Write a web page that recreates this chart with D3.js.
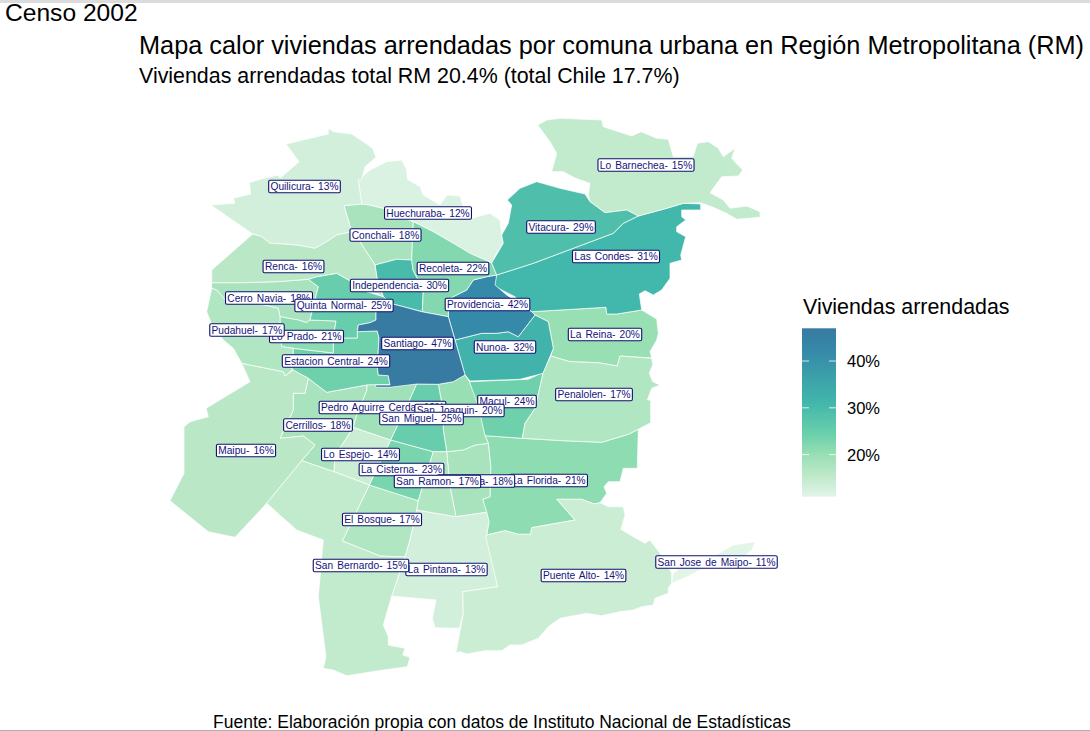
<!DOCTYPE html>
<html><head><meta charset="utf-8">
<script src="https://cdn.jsdelivr.net/npm/d3@7/dist/d3.min.js"></script>
<style>html,body{margin:0;padding:0;background:#fff}svg{display:block}text{font-family:"Liberation Sans",Arial,sans-serif}</style>
</head><body><svg id="c" width="1090" height="731"></svg>
<script>
// Comunas in alphabetical order (the order in which their labels stack)
const comunas=["Cerrillos","Cerro Navia","Conchali","El Bosque","Estacion Central","Huechuraba","Independencia","La Cisterna","La Florida","La Granja","La Pintana","La Reina","Las Condes","Lo Barnechea","Lo Espejo","Lo Prado","Macul","Maipu","Nunoa","Pedro Aguirre Cerda","Penalolen","Providencia","Pudahuel","Puente Alto","Quilicura","Quinta Normal","Recoleta","Renca","San Bernardo","San Joaquin","San Jose de Maipo","San Miguel","San Ramon","Santiago","Vitacura"];
const arrendadas=[18,18,18,17,24,12,30,23,21,18,13,20,31,15,14,21,24,16,32,19,17,42,17,14,13,25,22,16,15,20,11,25,17,47,29];
// Label anchors in map grid units
const anclas=[[318,425],[269,298],[385.5,235],[382,519.5],[336,361],[428,213],[399.5,285.5],[401.5,469.5],[548.5,480.5],[476,481],[446.5,569.5],[605,334.5],[616,256.5],[646,165],[360.5,454.5],[306.5,336.5],[507,401.5],[246,450.5],[505,347],[382.5,407.5],[594,394.5],[487.5,304.5],[247,330],[583.5,575.5],[304.5,186.5],[344,305.5],[453,268.5],[293.5,266.5],[361,565.5],[459.5,410.5],[716.5,562],[421.5,418.5],[437.5,481.5],[417.5,343.5],[561,227]];
// Comuna outlines in map grid units
const contornos=[
[[308.3,378.3],[326.7,392.3],[366.7,385],[367,390],[356.7,415],[353.3,427.3],[343.3,443],[335,455],[334,471.7],[301.7,460.7],[315,445],[303.3,436],[280,438.3],[293.3,410],[293.3,393.3],[305,393.3]],
[[211.7,282.7],[243.3,282.7],[276.7,281.7],[308.3,279.3],[318.3,286.7],[310,320],[306.7,322.7],[298.3,320],[280,316.7],[278.3,308.3],[260,304],[226.7,301.7],[216.7,290],[211.7,288.3]],
[[344,205.7],[361.7,204],[370,205],[383.3,208.3],[413.3,221.7],[411.7,260],[396.7,259.3],[375,265],[360,241.7],[351.7,231.7]],
[[369.3,485],[418.3,500.7],[416.7,510],[410,540],[405,557],[380,556],[342.3,541]],
[[293.3,348.3],[333.3,353],[333.3,338],[357.3,338],[357.3,331.7],[377.3,331],[379,338],[377.3,366.7],[378.3,375],[388.3,375.7],[390,385],[375.7,385],[366.7,385],[326.7,392.3],[308.3,378.3],[292,370]],
[[358.3,180],[370,170],[386.7,161.7],[401.7,160],[406.7,170],[407.3,179.3],[420,186.7],[423.3,195],[440,205],[446.7,195],[460,196],[463.3,207.3],[471.7,218.3],[490,213.3],[500,220],[501.7,235],[503.3,243],[496.7,253],[491.7,263],[470,253.3],[453.3,243.3],[433.3,231.7],[413.3,221.7],[383.3,208.3],[370,205],[361.7,204]],
[[375,265],[396.7,259.3],[411.7,260],[413,270],[423.3,290],[422.3,311.7],[403.3,306.7],[390,303.3],[383.3,296.7],[377.3,280]],
[[390.7,440],[433.3,451.7],[418.3,500.7],[369.3,485]],
[[485,435.7],[522.3,438.3],[563.3,440.7],[601.7,442.3],[628.3,434.3],[638.3,429.3],[637.3,468.3],[623.3,468.3],[620,481.7],[608.3,481.7],[604,486.7],[606.7,493.3],[600,502.7],[594,504],[581.7,499.3],[556.7,499.3],[575,520],[531.7,527.7],[530.7,534.3],[518.3,534.3],[505,530.7],[486.7,535],[489,521.7],[482.7,499.3],[490,496.7],[490.7,466.7],[488.3,443.3]],
[[446.7,451.7],[463.3,450],[475,445],[488.3,443.3],[490.7,466.7],[490,496.7],[482.7,499.3],[486.7,512.3],[456,516.7],[450,486.7]],
[[416.7,510],[456,516.7],[486.7,512.3],[489,521.7],[486.7,535],[497.7,586.7],[462.7,591.7],[463.3,613.3],[459.3,628.3],[435,627.7],[432.3,618.3],[436,600],[391.7,596],[405,557],[410,540]],
[[531.7,311.7],[606,307.3],[606.7,314],[616.7,314],[641.7,310],[656.7,319],[658.3,333.3],[656.7,340],[650,351.7],[651.7,358],[620,356],[617.3,366],[598.3,362.7],[570,361.7],[550.7,356],[553.3,348.3],[548.3,321.7],[535,315]],
[[496.7,275],[533.3,263.3],[613.3,233.3],[623.3,223.3],[638.3,216],[666.7,208.3],[683.3,203.3],[700.7,204],[700.7,210],[681.7,210],[681.7,216.7],[685.7,220],[676.7,226.7],[676.7,231.7],[685.7,236.7],[680.7,255],[681.7,260],[670,263.3],[670,278.3],[661.7,290],[653.3,295],[645,290.7],[639.3,294],[641.7,310],[616.7,314],[606.7,314],[606,307.3],[531.7,311.7],[515,296.7],[493.3,285.7]],
[[537.7,125],[546.7,120],[560,118.3],[601.7,120],[603.3,126.7],[631.7,136],[641,131.7],[656.7,138.3],[668.3,139.3],[673.3,156.7],[693.3,156.7],[697.3,143.3],[708.3,141.7],[718.3,148.3],[723.3,156.7],[735,148.3],[731.7,158.3],[742.7,170],[738.3,176],[721.7,176.7],[710,192.7],[723.3,200],[730,208.3],[746.7,206],[760,211.7],[760,217.3],[736.7,219.3],[726.7,213.3],[711.7,206.7],[700,202.7],[683.3,203.3],[666.7,208.3],[638.3,216],[626.7,210],[605,212.7],[590,201.7],[588.3,195],[590,183.3],[575,178],[563.3,171.7],[551.7,171.7],[556.7,153.3],[550,141.7]],
[[353.3,427.3],[390.7,440],[369.3,485],[334,471.7],[335,455],[343.3,443]],
[[280,316.7],[298.3,320],[306.7,322.7],[310,320],[336,321],[333.3,338],[333.3,353],[293.3,348.3],[281.7,346.7],[280,336.7]],
[[469.3,381.7],[528.3,379.3],[543.3,372.3],[535,408.3],[525,423.3],[522.3,438.3],[485,435.7]],
[[241.7,363.3],[283.3,371.7],[285,376],[293.3,370],[308.3,378.3],[305,393.3],[293.3,393.3],[293.3,410],[280,438.3],[303.3,436],[315,445],[301.7,460.7],[266.7,503.3],[235,537.3],[208.3,531.7],[170,500.7],[184,473.3],[184,426.7],[190,421.7],[208.3,416.7],[206,408.3],[250,381.7]],
[[455,340],[481.7,333.3],[496.7,333.3],[508.3,331.7],[518.3,336.7],[535,315],[548.3,321.7],[553.3,348.3],[543.3,373.3],[520,379.3],[470,381],[465,375]],
[[367,385],[416.7,384],[406.7,406.7],[390.7,440],[353.3,427.3],[356.7,415],[367,390]],
[[550.7,356],[570,361.7],[598.3,362.7],[617.3,366],[620,356],[651.7,358.3],[652.7,365],[649.3,373.3],[652.7,381.7],[660,385],[651.7,388.3],[647.3,400],[650.7,400],[650.7,422.7],[638.3,429.3],[628.3,434.3],[601.7,442.3],[563.3,440.7],[522.3,438.3],[525,423.3],[535,408.3],[543.3,372.3]],
[[486.7,276.7],[473.3,280],[466.7,290],[453.3,296.7],[448.3,300],[448.3,316.7],[455,340],[481.7,333.3],[496.7,333.3],[508.3,331.7],[518.3,336.7],[535,315],[531.7,311.7],[516.7,301.7],[506.7,295],[495,285],[496.7,275]],
[[211.7,288.3],[216.7,290],[226.7,301.7],[260,304],[278.3,308.3],[280,316.7],[280,336.7],[281.7,346.7],[293.3,348.3],[292,370],[285,376],[283.3,371.7],[241.7,363.3],[233.3,348.3],[223.3,340],[212,325],[206.7,311.7]],
[[485.7,536.7],[486.7,535],[505,530.7],[518.3,534.3],[530.7,534.3],[531.7,527.7],[575,520],[556.7,499.3],[581.7,499.3],[594,504],[600,502.7],[608.3,506.7],[623.3,506.7],[625,515],[621,529.3],[633.3,536.7],[645,543.3],[650,540],[665,560],[671.7,573.3],[671.7,583.3],[668.3,588.3],[668.3,593.3],[655,598.3],[653.3,605],[641.7,606.7],[633.3,610],[620,611.7],[601.7,615.7],[586.7,613.3],[560,618.3],[548.3,626.7],[538.3,638.3],[521.7,645],[510,645],[501.7,650.7],[485,650.7],[466.7,654],[460,651.7],[456,652.7],[463.3,613.3],[462.7,591.7],[497.7,586.7]],
[[328.3,128.3],[333.3,131.7],[351.7,134],[363.3,141.7],[372.7,148.3],[376,157.3],[365,166.7],[361.7,179.3],[358.3,180],[361.7,204],[344,205.7],[351.7,231.7],[336.7,235],[326.7,241.7],[315,248.3],[296.7,245],[283.3,244],[270,243.3],[261.7,236.7],[252.7,234],[210.7,205],[235,203.3],[233.3,198.3],[250.7,194],[249.3,182.7],[260,179.3],[278.3,175],[280,178.3],[299,161.7],[286,144],[328.3,134]],
[[336.7,273.3],[351.7,281.7],[366.7,291.7],[383.3,296.7],[390,303.3],[376,308],[376,320],[370,322.7],[358.3,325],[357.3,331.7],[357.3,338],[333.3,338],[336,321],[310,320],[318.3,286.7],[308.3,279.3],[316.7,276.7]],
[[413.3,221.7],[433.3,231.7],[453.3,243.3],[470,253.3],[491.7,263],[496.7,275],[486.7,276.7],[473.3,280],[466.7,290],[453.3,296.7],[448.3,300],[448.3,316.7],[421.7,311.7],[422.3,311.7],[423.3,290],[413,270],[411.7,260]],
[[252.7,234],[261.7,236.7],[270,243.3],[283.3,244],[296.7,245],[315,248.3],[326.7,241.7],[336.7,235],[351.7,231.7],[360,241.7],[375,265],[377.3,280],[383.3,296.7],[376.7,293.3],[366.7,291.7],[351.7,281.7],[336.7,273.3],[316.7,276.7],[308.3,279.3],[276.7,281.7],[243.3,282.7],[211.7,282.7],[211.7,270]],
[[301.7,460.7],[334,471.7],[369.3,485],[342.3,541],[380,556],[405,557],[391.7,596],[383.3,625],[388.3,636.7],[388.3,645],[405,648.3],[402.7,655],[410,657.3],[407.3,666.7],[383.3,670],[346.7,675.7],[333.3,670],[323.3,668.3],[326,656.7],[318.3,596.7],[323.3,540],[296.7,530],[266.7,503.3]],
[[438.3,384.3],[453.3,381.7],[465,375],[469.3,381.7],[478,405],[485,435.7],[488.3,443.3],[475,445],[463.3,450],[446.7,451.7],[443.3,430],[443,410]],
[[671.7,583.3],[673,573],[685,565],[700,558],[716,555],[733.3,545],[755,541.7],[752,550],[740,560],[720,568],[700,570],[686.7,577]],
[[416.7,384],[438.3,384.3],[443,410],[443.3,430],[446.7,451.7],[433.3,451.7],[390.7,440],[406.7,406.7]],
[[433.3,451.7],[446.7,451.7],[450,486.7],[456,516.7],[416.7,510],[418.3,500.7]],
[[376,308],[390,303.3],[403.3,306.7],[421.7,311.7],[448.3,316.7],[455,340],[465,375],[453.3,381.7],[438.3,384.3],[416.7,384],[390,387.3],[375.7,387.3],[375.7,385],[390,385],[388.3,375.7],[378.3,375],[377.3,366.7],[379,338],[377.3,331],[357.3,331.7],[358.3,325],[370,322.7],[376,320]],
[[536.7,181.7],[560,188.3],[585,194],[590,201.7],[605,212.7],[626.7,210],[638.3,216],[623.3,223.3],[613.3,233.3],[533.3,263.3],[496.7,275],[491.7,263],[503.3,243.3],[501.7,235],[508.3,223.3],[511.7,205],[507.3,200],[520,188.3]]
];
const legendTicks=[20,30,40];
const colorStops=[11,13,15,20,24,31,42,47];
const colorRange=["#e2f5e6","#d2efdc","#c2eacc","#98dfb4","#6ed1ac","#42b7ab","#368aa9","#377aa2"];

const svg=d3.select("#c");
const x=d3.scaleLinear().domain([170,780]).range([170,780]);
const y=d3.scaleLinear().domain([115,680]).range([115,680]);
const color=d3.scaleLinear().domain(colorStops).range(colorRange);
const pct=v=>v+"%";

svg.append("rect").attr("x",0).attr("y",0).attr("width",1090).attr("height",3).attr("fill","#dcdcdc");
svg.append("rect").attr("x",0).attr("y",730).attr("width",1090).attr("height",1).attr("fill","#b0b0b0");

const line=d3.line().x(d=>x(d[0])).y(d=>y(d[1])).curve(d3.curveLinearClosed);
svg.append("g").selectAll("path").data(comunas).join("path")
  .attr("d",(d,i)=>line(contornos[i]))
  .attr("fill",(d,i)=>color(arrendadas[i]))
  .attr("stroke","#fff").attr("stroke-width",0.7).attr("stroke-linejoin","round");

// labels
const lg=svg.append("g");
comunas.forEach((c,i)=>{
  const g=lg.append("g").attr("transform",`translate(${x(anclas[i][0])},${y(anclas[i][1])})`);
  const r=g.append("rect");
  const t=g.append("text").attr("text-anchor","middle").attr("y",3.5)
    .attr("font-size",10.2).attr("fill","#14147a").attr("word-spacing","1.2px")
    .text(`${c}- ${pct(arrendadas[i])}`);
  const w=t.node().getComputedTextLength();
  r.attr("x",-w/2-1.8).attr("y",-6.2).attr("width",w+3.6).attr("height",12.4).attr("rx",1.5)
   .attr("fill","#fff").attr("stroke","#10106e").attr("stroke-width",1.1);
});

// legend
const defs=svg.append("defs");
const barTop=328.3,barBottom=496.7;
const ly=d3.scaleLinear().domain([11,47]).range([barBottom,barTop]);
const grad=defs.append("linearGradient").attr("id","lg").attr("x1",0).attr("x2",0).attr("y1",1).attr("y2",0);
colorStops.forEach(s=>grad.append("stop").attr("offset",(s-11)/36).attr("stop-color",color(s)));
svg.append("rect").attr("x",802).attr("y",barTop).attr("width",34).attr("height",barBottom-barTop).attr("fill","url(#lg)");
legendTicks.forEach(t=>{
  [[802,809],[829,836]].forEach(p=>svg.append("line").attr("x1",p[0]).attr("x2",p[1]).attr("y1",ly(t)).attr("y2",ly(t)).attr("stroke","#fff").attr("stroke-width",0.8));
  svg.append("text").attr("x",847).attr("y",ly(t)+6).attr("font-size",16.5).attr("fill","#000").text(pct(t));
});
svg.append("text").attr("x",803).attr("y",314).attr("font-size",21.4).attr("fill","#000").text("Viviendas arrendadas");

svg.append("text").attr("x",5).attr("y",21).attr("font-size",24.6).attr("fill","#000").text("Censo 2002");
svg.append("text").attr("x",139).attr("y",54).attr("font-size",25.3).attr("fill","#000").text("Mapa calor viviendas arrendadas por comuna urbana en Región Metropolitana (RM)");
svg.append("text").attr("x",139).attr("y",83).attr("font-size",21.4).attr("fill","#000").text("Viviendas arrendadas total RM 20.4% (total Chile 17.7%)");
svg.append("text").attr("x",213).attr("y",728).attr("font-size",17.5).attr("fill","#000").text("Fuente: Elaboración propia con datos de Instituto Nacional de Estadísticas");
</script></body></html>
